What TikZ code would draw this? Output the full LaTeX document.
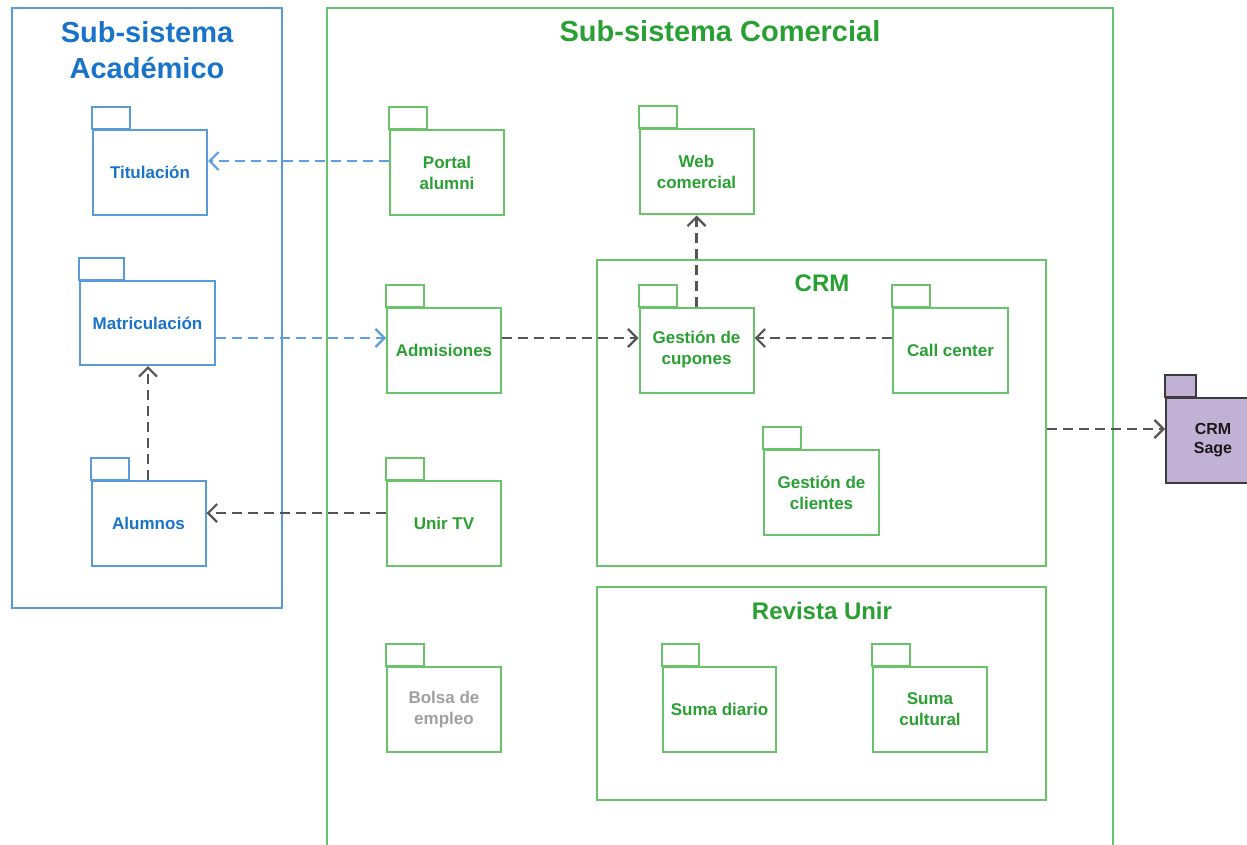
\documentclass[tikz,border=0pt]{standalone}
\usepackage{fontspec}
\setmainfont{Liberation Sans}
\usetikzlibrary{arrows.meta}
\definecolor{lblue}{RGB}{88,155,215}
\definecolor{tblue}{RGB}{25,115,200}
\definecolor{lgreen}{RGB}{105,195,105}
\definecolor{tgreen}{RGB}{40,160,50}
\definecolor{dgray}{RGB}{85,85,85}
\definecolor{ablue}{RGB}{95,160,220}
\definecolor{lgraytext}{RGB}{160,160,160}
\definecolor{purplefill}{RGB}{193,177,212}
\definecolor{purpleline}{RGB}{60,60,60}
\newcommand\pkgtab[3]{\draw[#2] (#1.north west) rectangle ++(#3,-22);}
\begin{document}
\begin{tikzpicture}[x=1pt,y=-1pt,
  frameline/.style={line width=2pt},
  pkg/.style={draw,line width=2pt,minimum width=114pt,minimum height=85pt,inner sep=0pt,align=center,font=\bfseries\fontsize{17}{21}\selectfont},
  bluepkg/.style={pkg,draw=lblue,text=tblue},
  greenpkg/.style={pkg,draw=lgreen,text=tgreen},
  bluetab/.style={draw=lblue,line width=2pt},
  greentab/.style={draw=lgreen,line width=2pt},
  dep/.style={dash pattern=on 10pt off 6pt,line width=2.2pt,-{Straight Barb[length=9pt,width=18pt]}},
  graydep/.style={dep,draw=dgray},
  bluedep/.style={dep,draw=ablue},
  bigtitle/.style={font=\bfseries\fontsize{29}{36}\selectfont,align=center},
  subtitle/.style={font=\bfseries\fontsize{24}{29}\selectfont,text=tgreen},
]
\useasboundingbox (0,0) rectangle (1247,845);
% frames
\node[draw=lblue,frameline,minimum width=270pt,minimum height=600pt,inner sep=0pt] (acad) at (147,308) {};
\draw[draw=lgreen,frameline] (327,860) -- (327,8) -- (1113,8) -- (1113,860);
\node[bigtitle,text=tblue] (acadtitle) at (147,50) {Sub-sistema\\Académico};
\node[bigtitle,text=tgreen,anchor=base] (comtitle) at (720,42) {Sub-sistema Comercial};
\node[draw=lgreen,frameline,minimum width=449pt,minimum height=306pt,inner sep=0pt] (crm) at (821.5,413) {};
\node[subtitle,anchor=base] (crmtitle) at (822,291) {CRM};
\node[draw=lgreen,frameline,minimum width=449pt,minimum height=213pt,inner sep=0pt] (rev) at (821.5,693.5) {};
\node[subtitle,anchor=base] (revtitle) at (822,619) {Revista Unir};
% academic packages
\node[bluepkg] (titul) at (150,172.5) {Titulación};
\pkgtab{titul}{bluetab}{38}
\node[bluepkg,minimum width=135pt,minimum height=84pt] (matric) at (147.5,323) {Matriculación};
\pkgtab{matric}{bluetab}{45}
\node[bluepkg] (alum) at (148.5,523) {Alumnos};
\pkgtab{alum}{bluetab}{38}
% commercial packages
\node[greenpkg] (portal) at (447,172.5) {Portal\\alumni};
\pkgtab{portal}{greentab}{38}
\node[greenpkg] (web) at (696.5,172) {Web\\comercial};
\pkgtab{web}{greentab}{38}
\node[greenpkg] (admis) at (444,350) {Admisiones};
\pkgtab{admis}{greentab}{38}
\node[greenpkg] (cupon) at (696.5,350) {Gestión de\\cupones};
\pkgtab{cupon}{greentab}{38}
\node[greenpkg,minimum width=115pt] (call) at (950.5,350) {Call center};
\pkgtab{call}{greentab}{38}
\node[greenpkg,minimum width=115pt] (clien) at (821.5,492.5) {Gestión de\\clientes};
\pkgtab{clien}{greentab}{38}
\node[greenpkg] (unirtv) at (444,523.5) {Unir TV};
\pkgtab{unirtv}{greentab}{38}
\node[greenpkg,text=lgraytext] (bolsa) at (444,709.5) {Bolsa de\\empleo};
\pkgtab{bolsa}{greentab}{38}
\node[greenpkg,minimum width=113pt] (sumad) at (719.5,709.5) {Suma diario};
\pkgtab{sumad}{greentab}{37}
\node[greenpkg] (sumac) at (930,709.5) {Suma\\cultural};
\pkgtab{sumac}{greentab}{38}
% CRM Sage
\node[pkg,draw=purpleline,fill=purplefill,text=black!90,minimum width=94pt,font=\bfseries\fontsize{16}{19}\selectfont] (sage) at (1213,440.5) {CRM\\Sage};
\draw[draw=purpleline,fill=purplefill,line width=2pt] (sage.north west) rectangle ++(31,-22);
% dependencies
\draw[bluedep] ([yshift=11.5pt]portal.west) -- ([yshift=11.5pt]portal.west -| titul.east);
\draw[bluedep] (matric.east |- 0,338) -- (admis.west |- 0,338);
\draw[graydep] (alum.north -| 148,0) -- (matric.south -| 148,0);
\draw[graydep] (unirtv.west |- 0,513) -- (alum.east |- 0,513);
\draw[graydep] (admis.east |- 0,338) -- (cupon.west |- 0,338);
\draw[graydep] (call.west |- 0,338) -- (cupon.east |- 0,338);
\draw[graydep] (cupon.north) -- (web.south);
\coordinate (crmout) at (crm.east |- 0,429);
\draw[graydep] (crmout) -- (crmout -| sage.west);
\end{tikzpicture}
\end{document}
